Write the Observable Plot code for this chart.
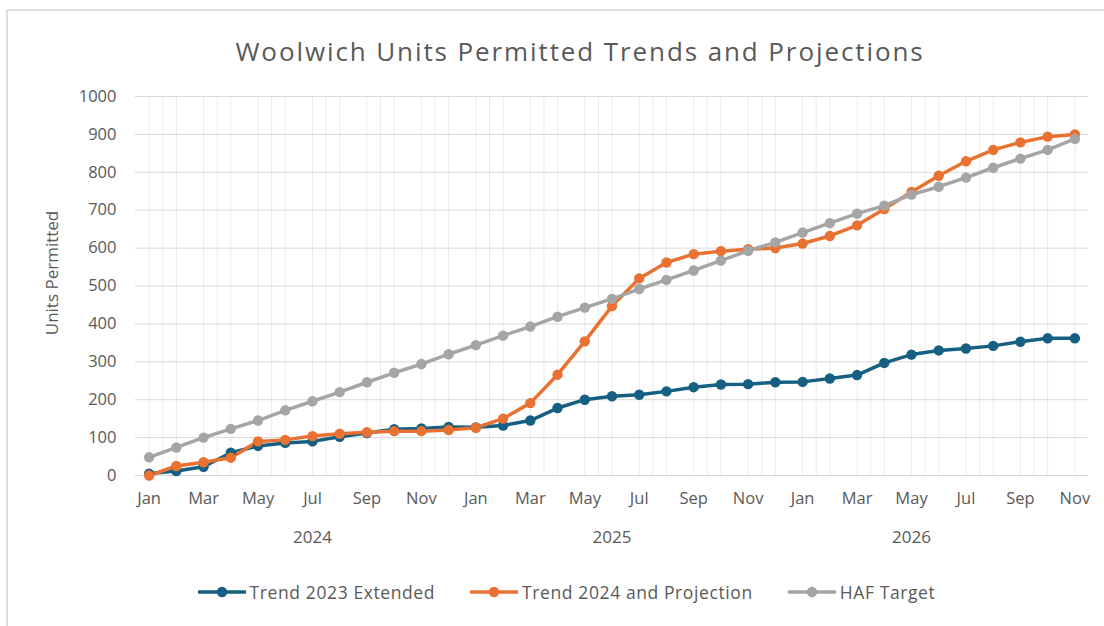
<!DOCTYPE html>
<html>
<head>
<meta charset="utf-8">
<script src="https://cdn.jsdelivr.net/npm/d3@7"></script>
<script src="https://cdn.jsdelivr.net/npm/@observablehq/plot@0.6"></script>
<style>
  html, body { margin: 0; padding: 0; background: #fff; }
  body { width: 1104px; height: 626px; position: relative; overflow: hidden; font-family: "Open Sans", "Noto Sans", sans-serif; }
  #frame { position: absolute; left: 6px; top: 9px; width: 1200px; height: 700px; border-left: 2px solid #dedede; border-top: 2px solid #dedede; }
  #title { position: absolute; left: 0; width: 1160px; top: 33px; text-align: center; font-size: 26px; letter-spacing: 1.9px; color: #595959; }
  #chart { position: absolute; left: 0; top: 0; }
  #legend { position: absolute; left: 0; width: 1132px; top: 580px; display: flex; justify-content: center; gap: 34px; font-size: 17.5px; letter-spacing: 0.6px; color: #595959; }
  #legend .item { display: flex; align-items: center; gap: 3px; }
</style>
</head>
<body>
<div id="frame"></div>
<div id="title">Woolwich Units Permitted Trends and Projections</div>
<div id="chart"></div>
<div id="legend"></div>
<script>
// ---- data ----
const monthNames = ["Jan","Feb","Mar","Apr","May","Jun","Jul","Aug","Sep","Oct","Nov","Dec"];
const years = ["2024", "2025", "2026"];
const monthsPerYear = [12, 12, 11];
const yearLabelMonth = ["Jul", "Jun", "May"]; // month under which each year label sits
const seriesNames = ["Trend 2023 Extended", "Trend 2024 and Projection", "HAF Target"];
const seriesColors = ["#156082", "#E97132", "#A5A5A5"];

const trend2023 = [5, 12, 23, 60, 78, 86, 90, 102, 112, 122, 124, 128,
                   127, 132, 145, 178, 200, 209, 213, 222, 233, 240, 241, 246,
                   247, 256, 265, 297, 319, 330, 335, 342, 353, 362, 362];
const trend2024 = [0, 25, 35, 47, 90, 94, 104, 110, 114, 117, 117, 120,
                   126, 150, 191, 266, 354, 447, 520, 562, 584, 592, 597, 600,
                   612, 632, 660, 703, 748, 791, 829, 859, 879, 894, 900];
const hafTarget = [48, 74, 100, 123, 145, 172, 196, 220, 246, 271, 294, 320,
                   344, 369, 393, 419, 443, 466, 492, 516, 541, 567, 593, 615,
                   641, 666, 691, 712, 741, 762, 786, 812, 836, 859, 888];
const yTicks = [0, 100, 200, 300, 400, 500, 600, 700, 800, 900, 1000];

// ---- build tables ----
const months = [];
years.forEach((yr, yi) => {
  for (let m = 0; m < monthsPerYear[yi]; m++) months.push({year: yr, month: monthNames[m]});
});
const values = [trend2023, trend2024, hafTarget];
const rows = [];
values.forEach((arr, si) => arr.forEach((v, i) => rows.push({i, value: v, series: seriesNames[si]})));

const idx = months.map((d, i) => i);
const labelIdx = idx.filter(i => i % 2 === 0);
const vGrid = idx.concat(labelIdx.filter(i => i < months.length - 1).map(i => i + 0.5));
const yearLabels = years.map((yr, yi) => ({
  year: yr,
  i: months.findIndex(d => d.year === yr && d.month === yearLabelMonth[yi])
}));

const plot = Plot.plot({
  width: 1104,
  height: 560,
  marginTop: 96,
  marginBottom: 85,
  marginLeft: 135,
  marginRight: 16,
  style: {fontFamily: '"Open Sans", sans-serif', color: "#595959", background: "transparent"},
  x: {type: "linear", domain: [-0.5, months.length - 0.5]},
  y: {domain: [0, 1000]},
  color: {domain: seriesNames, range: seriesColors},
  marks: [
    Plot.ruleX(vGrid, {x: d => d, y1: 0, y2: 1000, stroke: "#ebebeb", strokeWidth: 1}),
    Plot.ruleY(yTicks, {y: d => d, stroke: "#d9d9d9", strokeWidth: 1}),
    Plot.axisY({ticks: yTicks, tickSize: 0, tickPadding: 19, fontSize: 16.5, fill: "#595959", label: null,
                tickFormat: d => String(d)}),
    Plot.axisX({ticks: labelIdx, tickSize: 0, tickPadding: 17, fontSize: 16.5, fill: "#595959",
                tickFormat: i => months[i].month, label: null}),
    Plot.text(yearLabels, {x: "i", text: "year", frameAnchor: "bottom", dy: 62, lineAnchor: "middle",
                           fontSize: 17, fill: "#595959"}),
    Plot.text(["Units Permitted"], {text: d => d, frameAnchor: "left", textAnchor: "middle", dx: -83, dy: -13,
                                    rotate: -90, fontSize: 17, fill: "#595959"}),
    Plot.line(rows, {x: "i", y: "value", z: "series", stroke: "series", strokeWidth: 3.5}),
    Plot.dot(rows, {x: "i", y: "value", fill: "series", r: 5.2, stroke: "none"})
  ]
});
document.getElementById("chart").appendChild(plot);

// ---- legend ----
const legend = d3.select("#legend");
seriesNames.forEach((name, si) => {
  const item = legend.append("div").attr("class", "item");
  const sw = item.append("svg").attr("width", 50).attr("height", 14);
  sw.append("line").attr("x1", 1).attr("x2", 49).attr("y1", 7).attr("y2", 7)
    .attr("stroke", seriesColors[si]).attr("stroke-width", 3.5);
  sw.append("circle").attr("cx", 25).attr("cy", 7).attr("r", 5.2).attr("fill", seriesColors[si]);
  item.append("span").text(name);
});
</script>
</body>
</html>
